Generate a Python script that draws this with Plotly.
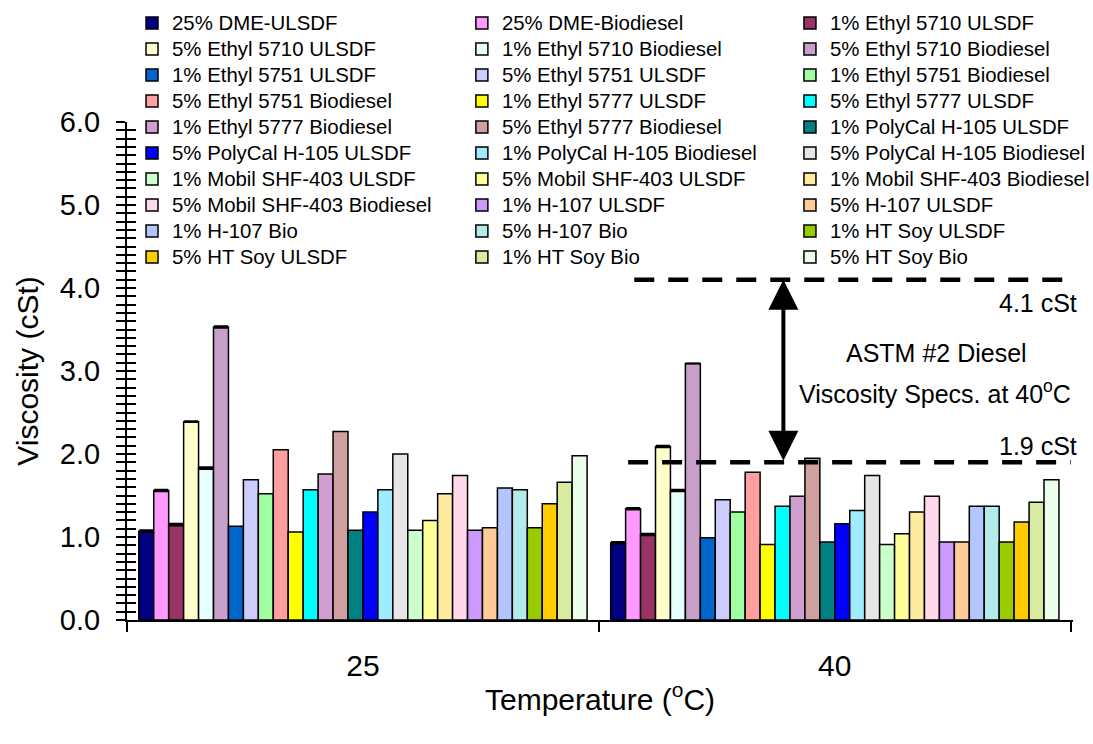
import plotly.graph_objects as go

# ---------------- data ----------------
temps = ["25", "40"]

series_names = [
    "25% DME-ULSDF", "25% DME-Biodiesel", "1% Ethyl 5710 ULSDF",
    "5% Ethyl 5710 ULSDF", "1% Ethyl 5710 Biodiesel", "5% Ethyl 5710 Biodiesel",
    "1% Ethyl 5751 ULSDF", "5% Ethyl 5751 ULSDF", "1% Ethyl 5751 Biodiesel",
    "5% Ethyl 5751 Biodiesel", "1% Ethyl 5777 ULSDF", "5% Ethyl 5777 ULSDF",
    "1% Ethyl 5777 Biodiesel", "5% Ethyl 5777 Biodiesel", "1% PolyCal H-105 ULSDF",
    "5% PolyCal H-105 ULSDF", "1% PolyCal H-105 Biodiesel", "5% PolyCal H-105 Biodiesel",
    "1% Mobil SHF-403 ULSDF", "5% Mobil SHF-403 ULSDF", "1% Mobil SHF-403 Biodiesel",
    "5% Mobil SHF-403 Biodiesel", "1% H-107 ULSDF", "5% H-107 ULSDF",
    "1% H-107 Bio", "5% H-107 Bio", "1% HT Soy ULSDF",
    "5% HT Soy ULSDF", "1% HT Soy Bio", "5% HT Soy Bio",
]

visc_25 = [1.07, 1.56, 1.15, 2.39, 1.83, 3.53, 1.13, 1.69, 1.52, 2.05,
           1.06, 1.57, 1.76, 2.27, 1.08, 1.30, 1.57, 2.00, 1.08, 1.20,
           1.52, 1.74, 1.08, 1.11, 1.59, 1.57, 1.11, 1.40, 1.66, 1.98]

visc_40 = [0.93, 1.34, 1.03, 2.09, 1.56, 3.09, 0.99, 1.45, 1.30, 1.78,
           0.91, 1.37, 1.49, 1.95, 0.94, 1.16, 1.32, 1.74, 0.91, 1.04,
           1.30, 1.49, 0.94, 0.94, 1.37, 1.37, 0.94, 1.18, 1.42, 1.69]

err_25 = [0.01, 0.01, 0.01, 0.005, 0.01, 0.01] + [None] * 24
err_40 = [0.01, 0.01, 0.01, 0.01, 0.01, None] + [None] * 24

spec_low = 1.9
spec_high = 4.1

colors = [
    "#000080", "#FF99FF", "#993366",
    "#FFFFCC", "#E8FFFF", "#C89FC8",
    "#0066CC", "#CCCCFF", "#A0FFA0",
    "#FF9F9F", "#FFFF00", "#00FFFF",
    "#D09FD0", "#D0A0A0", "#008080",
    "#0000FF", "#A0ECFF", "#E6E6E6",
    "#CCFFCC", "#FFFF99", "#FFEBA0",
    "#FFD9EB", "#CC99FF", "#FFCC99",
    "#B3C6FF", "#B3EBEB", "#99CC00",
    "#FFCC00", "#D9EBA0", "#EBFFEB",
]

FONT = "Arial, 'Liberation Sans', sans-serif"

fig = go.Figure()
legend_ids = ["legend", "legend2", "legend3"]
for i, name in enumerate(series_names):
    errs = [err_25[i], err_40[i]]
    has_err = any(e is not None for e in errs)
    fig.add_trace(go.Bar(
        x=temps,
        y=[visc_25[i], visc_40[i]],
        name=f"<span style='font-size:20.4px'>{name}</span>",
        marker=dict(color=colors[i], line=dict(color="black", width=1.5)),
        error_y=dict(type="data", array=errs, visible=has_err, color="black",
                     thickness=2, width=7),
        legend=legend_ids[i % 3],
    ))

leg_common = dict(
    font=dict(family=FONT, size=17.7, color="black"),
    bgcolor="rgba(0,0,0,0)", borderwidth=0,
    yanchor="top", xanchor="left", traceorder="normal",
    tracegroupgap=0, orientation="v",
)
leg_y = 1.235

fig.update_layout(
    width=1093, height=744,
    margin=dict(l=127, r=20, t=122, b=124, autoexpand=False),
    barmode="group", bargap=0.05, bargroupgap=0,
    plot_bgcolor="white", paper_bgcolor="white",
    font=dict(family=FONT, color="black"),
    legend=dict(x=0.0053, y=leg_y, **leg_common),
    legend2=dict(x=0.354, y=leg_y, **leg_common),
    legend3=dict(x=0.7008, y=leg_y, **leg_common),
    xaxis=dict(
        type="category", tickson="boundaries", ticks="outside", ticklen=10,
        tickwidth=2, tickcolor="black", showline=True, linecolor="black",
        linewidth=2, showgrid=False, zeroline=False, automargin=False,
        tickfont=dict(size=30, family=FONT, color="black"),
        ticklabelstandoff=18,
        title=dict(text="Temperature (<sup>o</sup>C)",
                   font=dict(size=30, family=FONT, color="black"), standoff=8),
    ),
    yaxis=dict(
        range=[0, 6], dtick=1, tickformat=".1f", ticks="outside", ticklen=9,
        tickwidth=2, tickcolor="black",
        minor=dict(dtick=0.1, ticks="outside", ticklen=9, tickwidth=2,
                   tickcolor="black", showgrid=False),
        showline=True, linecolor="black", linewidth=2, showgrid=False,
        zeroline=False, automargin=False,
        tickfont=dict(size=29, family=FONT, color="black"),
        ticklabelstandoff=10,
        title=dict(text="Viscosity (cSt)",
                   font=dict(size=30, family=FONT, color="black"), standoff=12),
    ),
    yaxis2=dict(
        overlaying="y", anchor="x", side="left", range=[0, 6], dtick=1,
        ticks="inside", ticklen=9, tickwidth=2, tickcolor="black",
        minor=dict(dtick=0.1, ticks="inside", ticklen=9, tickwidth=2,
                   tickcolor="black", showgrid=False),
        showticklabels=False, showgrid=False, zeroline=False, showline=False,
    ),
)

# hidden helper so the overlay axis is drawn
fig.add_trace(go.Scatter(x=temps, y=[None, None], yaxis="y2", showlegend=False,
                         hoverinfo="skip", mode="lines"))

# spec lines
fig.add_shape(type="line", xref="x", yref="y", x0=0.575, x1=1.5,
              y0=spec_high, y1=spec_high,
              line=dict(color="black", width=4.5, dash="20px,14px"))
fig.add_shape(type="line", xref="x", yref="y", x0=0.562, x1=1.5,
              y0=spec_low, y1=spec_low,
              line=dict(color="black", width=4.5, dash="20px,14px"))

# double-headed arrow
fig.add_annotation(x=0.891, y=spec_high, ax=0.891, ay=spec_low,
                   xref="x", yref="y", axref="x", ayref="y", text="",
                   showarrow=True, arrowhead=2, startarrowhead=2,
                   arrowside="end+start", arrowsize=1.5, startarrowsize=1.5,
                   arrowwidth=4, arrowcolor="black", standoff=0, startstandoff=0)

ann_font = dict(size=25, family=FONT, color="black")
fig.add_annotation(x=1.006, y=3.82, xref="paper", yref="y", xanchor="right",
                   yanchor="middle", text="4.1 cSt", showarrow=False, font=ann_font)
fig.add_annotation(x=1.006, y=2.1, xref="paper", yref="y", xanchor="right",
                   yanchor="middle", text="1.9 cSt", showarrow=False, font=ann_font)
fig.add_annotation(x=0.856, y=3.22, xref="paper", yref="y", xanchor="center",
                   yanchor="middle", text="ASTM #2 Diesel", showarrow=False, font=ann_font)
fig.add_annotation(x=0.854, y=2.75, xref="paper", yref="y", xanchor="center",
                   yanchor="middle", text="Viscosity Specs. at 40<sup>o</sup>C",
                   showarrow=False, font=ann_font)

fig.write_html("out.html")
